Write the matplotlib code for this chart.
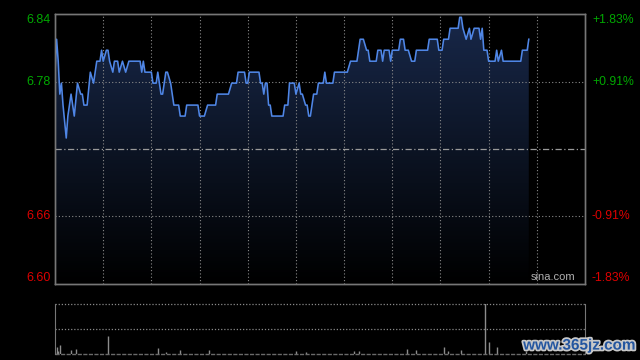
import numpy as np
import matplotlib
matplotlib.use("Agg")
import matplotlib.pyplot as plt
import matplotlib.patheffects as pe
from matplotlib.colors import LinearSegmentedColormap

plt.rcParams["font.family"] = ["Liberation Sans", "DejaVu Sans"]

# intraday minutes (0 = open, 330 = close) and last price at the turning points
minutes = [0, 1, 2, 3, 4, 5, 7, 8, 10, 12, 14, 16, 17, 18, 20, 22, 24, 26, 28, 29,
           30, 32, 33, 34, 36, 37, 39, 40, 42, 44, 46, 53, 54, 55, 56, 60, 61, 63, 64, 66,
           67, 69, 70, 72, 74, 77, 78, 81, 82, 89, 90, 93, 95, 100, 101, 108, 110, 113, 114, 118,
           119, 120, 121, 127, 128, 129, 130, 131, 132, 133, 134, 135, 142, 143, 145, 146, 149, 150, 152, 153,
           154, 156, 157, 158, 159, 160, 161, 163, 164, 167, 168, 169, 173, 174, 182, 184, 188, 190, 192, 194,
           195, 196, 200, 201, 203, 204, 205, 208, 209, 210, 214, 215, 217, 218, 220, 222, 224, 225, 232, 233,
           238, 239, 241, 242, 245, 246, 251, 252, 253, 254, 256, 258, 259, 261, 264, 265, 266, 267, 269, 270,
           274, 275, 276, 278, 279, 290, 291, 294, 295]
prices = [6.79, 6.82, 6.80, 6.77, 6.78, 6.76, 6.73, 6.75, 6.77, 6.75, 6.78, 6.77, 6.77, 6.76, 6.76, 6.79, 6.78, 6.80, 6.80, 6.81,
          6.80, 6.81, 6.81, 6.80, 6.79, 6.80, 6.80, 6.79, 6.80, 6.79, 6.80, 6.80, 6.79, 6.80, 6.79, 6.79, 6.78, 6.78, 6.79, 6.77,
          6.77, 6.79, 6.79, 6.78, 6.76, 6.76, 6.75, 6.75, 6.76, 6.76, 6.75, 6.75, 6.76, 6.76, 6.77, 6.77, 6.78, 6.78, 6.79, 6.79,
          6.78, 6.78, 6.79, 6.79, 6.78, 6.78, 6.77, 6.78, 6.78, 6.76, 6.76, 6.75, 6.75, 6.76, 6.76, 6.78, 6.78, 6.77, 6.78, 6.77,
          6.77, 6.76, 6.76, 6.75, 6.75, 6.76, 6.77, 6.77, 6.78, 6.78, 6.79, 6.78, 6.78, 6.79, 6.79, 6.80, 6.80, 6.82, 6.82, 6.81,
          6.81, 6.80, 6.80, 6.81, 6.81, 6.80, 6.81, 6.81, 6.80, 6.81, 6.81, 6.82, 6.82, 6.81, 6.81, 6.80, 6.80, 6.81, 6.81, 6.82,
          6.82, 6.81, 6.81, 6.82, 6.82, 6.83, 6.83, 6.84, 6.84, 6.83, 6.82, 6.83, 6.82, 6.83, 6.83, 6.82, 6.83, 6.81, 6.81, 6.80,
          6.80, 6.81, 6.80, 6.81, 6.80, 6.80, 6.81, 6.81, 6.82]

prev_close = 6.72
price_labels = ["6.84", "6.78", "6.66", "6.60"]
pct_labels = ["+1.83%", "+0.91%", "-0.91%", "-1.83%"]

# volume bars (minute, relative volume)
vol_minutes = [0, 1, 2, 3, 10, 13, 33, 64, 69, 78, 96, 150, 156, 186, 189, 219, 225, 242, 245, 253,
               268, 270, 275, 293]
vol_values = [20, 70, 30, 95, 40, 50, 180, 65, 20, 40, 40, 30, 20, 30, 35, 50, 40, 75, 35, 40,
              900, 120, 75, 30]

GREEN = "#00a800"
RED = "#dd0000"
GRID = "#8a8a8a"

fig = plt.figure(figsize=(6.4, 3.6), dpi=100, facecolor="black")
ax = fig.add_axes([55 / 640, 1 - 284 / 360, 530 / 640, 270 / 360], facecolor="black")
axv = fig.add_axes([55 / 640, 1 - 354.3 / 360, 530 / 640, 50.3 / 360], facecolor="black")

span = round(prev_close * 0.0183, 3)
lo, hi = prev_close - span, prev_close + span
ax.set_xlim(0, 330)
ax.set_ylim(lo, hi)

# gradient fill under the price line
cmap = LinearSegmentedColormap.from_list("fill", ["#000000", "#0c1424", "#18284a"])
grad = np.linspace(0, 1, 256).reshape(-1, 1)
img = ax.imshow(grad, cmap=cmap, origin="lower", aspect="auto",
                extent=[0, 330, lo, hi], zorder=1)
poly = ax.fill_between(minutes, prices, lo, color="none", zorder=1)
img.set_clip_path(poly.get_paths()[0], transform=ax.transData)

ax.plot(minutes, prices, color="#4f86e6", lw=1.15, zorder=4)

# grid
for m in range(30, 330, 30):
    ax.axvline(m, color=GRID, lw=0.8, ls=(0, (1, 2)), zorder=2)
q = prev_close * 0.00915
for lvl in (prev_close + q, prev_close - q):
    ax.axhline(lvl, color=GRID, lw=0.8, ls=(0, (1, 2)), zorder=2)
ax.axhline(prev_close, color="#9a9a9a", lw=0.9, ls=(0, (5, 2, 1, 2)), zorder=3)

levels = [hi, prev_close + q, prev_close - q, lo]
vas = ["top", "center", "center", "bottom"]
colors = [GREEN, GREEN, RED, RED]
ax.set_yticks(levels)
ax.set_yticklabels(price_labels)
ax.set_xticks([])
ax.tick_params(axis="y", length=0, pad=3, labelsize=9)
for lab, c, va in zip(ax.get_yticklabels(), colors, vas):
    lab.set_color(c)
    lab.set_va(va)

ax2 = ax.twinx()
ax2.set_ylim(lo, hi)
ax2.set_yticks(levels)
ax2.set_yticklabels(pct_labels)
ax2.tick_params(axis="y", length=0, pad=5, labelsize=8.8)
for lab, c, va in zip(ax2.get_yticklabels(), colors, vas):
    lab.set_color(c)
    lab.set_va(va)

for a in (ax, ax2):
    for s in a.spines.values():
        s.set_color("#777777")
        s.set_linewidth(1)

ax.text(0.982, 0.008, "sina.com", transform=ax.transAxes, ha="right", va="bottom",
        color="#b0b0b0", fontsize=8, zorder=5)

# volume panel
axv.set_xlim(0, 330)
axv.set_ylim(0, 500)
axv.vlines(vol_minutes, 0, vol_values, color="#8c8c8c", lw=1)
axv.axhline(250, color=GRID, lw=0.9, ls=(0, (1, 1.5)))
axv.axhline(500, color=GRID, lw=0.9, ls=(0, (1, 1.5)), clip_on=False)
axv.axhline(0, color="#6a6a6a", lw=1, ls=(0, (3, 1)), clip_on=False)
axv.set_xticks([])
axv.set_yticks([])
for side in ("top", "bottom"):
    axv.spines[side].set_visible(False)
for side in ("left", "right"):
    axv.spines[side].set_color("#777777")

fig.text(0.993, 0.04, "www.365jz.com", ha="right", va="center", color="#2456a0",
         fontsize=11, fontweight="bold",
         path_effects=[pe.withStroke(linewidth=2.5, foreground="#c8c8c8")])

fig.savefig("out.png", dpi=100, facecolor="black")
